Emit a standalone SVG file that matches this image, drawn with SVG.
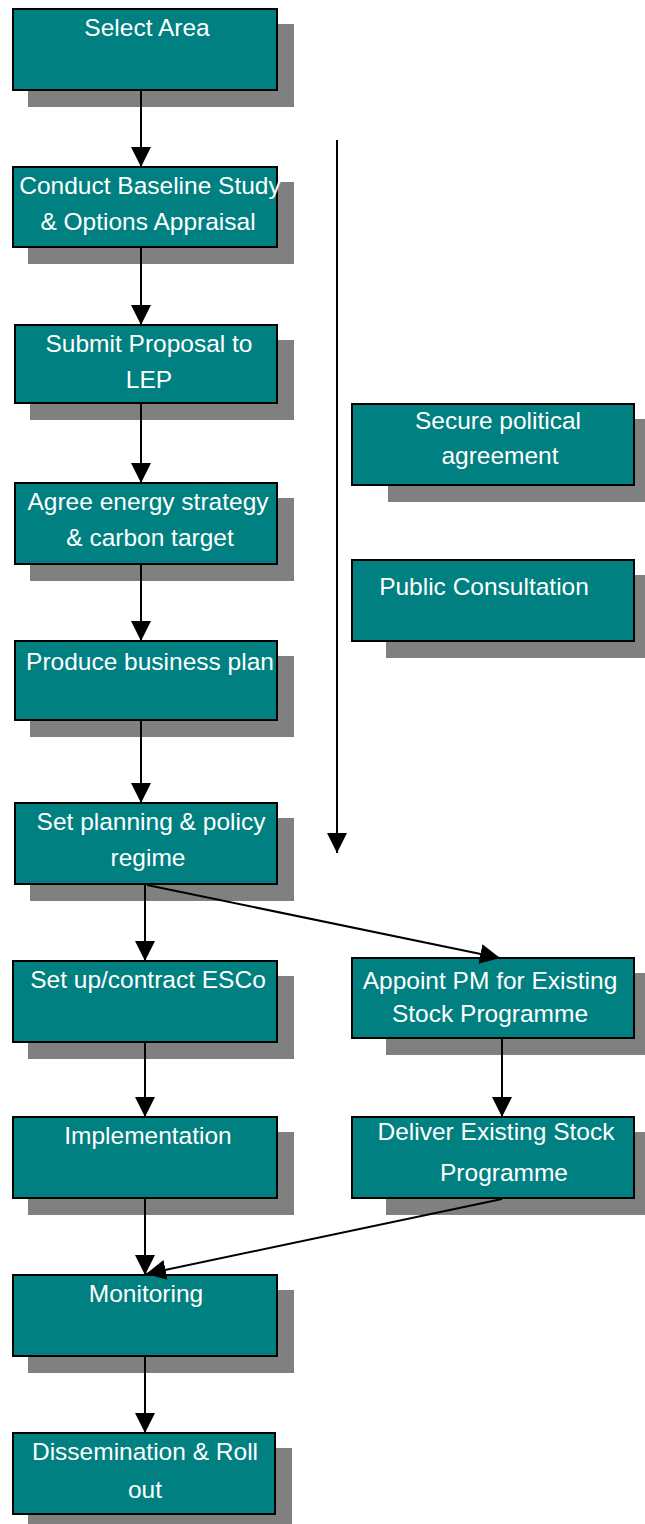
<svg xmlns="http://www.w3.org/2000/svg" width="645" height="1524" viewBox="0 0 645 1524">
  <style>
    .shadow { fill: #808080; }
    .box { fill: #008080; stroke: #000000; stroke-width: 2; }
    .label { font-family: "Liberation Sans", Arial, sans-serif; font-size: 24.5px; fill: #ffffff; text-anchor: middle; }
    .conn { stroke: #000000; stroke-width: 2; fill: none; marker-end: url(#arrow); }
  </style>
  <defs>
    <marker id="arrow" viewBox="0 0 20 20" refX="20" refY="10" markerWidth="20" markerHeight="21" markerUnits="userSpaceOnUse" orient="auto">
      <path d="M0,0 L20,10 L0,20 z" fill="#000000"/>
    </marker>
  </defs>

  <rect width="645" height="1524" fill="#ffffff"/>

  <!-- left column -->
  <g id="select-area">
    <rect class="shadow" x="28" y="24" width="266" height="83"/>
    <rect class="box" x="13" y="9" width="264" height="81"/>
    <text class="label" x="147" y="36">Select Area</text>
  </g>
  <g id="baseline-study">
    <rect class="shadow" x="28" y="182" width="266" height="82"/>
    <rect class="box" x="13" y="167" width="264" height="80"/>
    <text class="label" x="150" y="194">Conduct Baseline Study</text>
    <text class="label" x="148" y="230">&amp; Options Appraisal</text>
  </g>
  <g id="submit-proposal">
    <rect class="shadow" x="30" y="340" width="264" height="80"/>
    <rect class="box" x="15" y="325" width="262" height="78"/>
    <text class="label" x="149" y="352">Submit Proposal to</text>
    <text class="label" x="149" y="388">LEP</text>
  </g>
  <g id="energy-strategy">
    <rect class="shadow" x="30" y="498" width="264" height="83"/>
    <rect class="box" x="15" y="483" width="262" height="81"/>
    <text class="label" x="148" y="510">Agree energy strategy</text>
    <text class="label" x="150" y="546">&amp; carbon target</text>
  </g>
  <g id="business-plan">
    <rect class="shadow" x="30" y="656" width="264" height="81"/>
    <rect class="box" x="15" y="641" width="262" height="79"/>
    <text class="label" x="150" y="670">Produce business plan</text>
  </g>
  <g id="planning-regime">
    <rect class="shadow" x="30" y="818" width="264" height="83"/>
    <rect class="box" x="15" y="803" width="262" height="81"/>
    <text class="label" x="151" y="830">Set planning &amp; policy</text>
    <text class="label" x="148" y="866">regime</text>
  </g>
  <g id="contract-esco">
    <rect class="shadow" x="28" y="976" width="266" height="83"/>
    <rect class="box" x="13" y="961" width="264" height="81"/>
    <text class="label" x="148" y="988">Set up/contract ESCo</text>
  </g>
  <g id="implementation">
    <rect class="shadow" x="28" y="1132" width="266" height="83"/>
    <rect class="box" x="13" y="1117" width="264" height="81"/>
    <text class="label" x="148" y="1144">Implementation</text>
  </g>
  <g id="monitoring">
    <rect class="shadow" x="28" y="1290" width="266" height="83"/>
    <rect class="box" x="13" y="1275" width="264" height="81"/>
    <text class="label" x="146" y="1302">Monitoring</text>
  </g>
  <g id="dissemination">
    <rect class="shadow" x="28" y="1448" width="264" height="76"/>
    <rect class="box" x="13" y="1433" width="262" height="81"/>
    <text class="label" x="145" y="1460">Dissemination &amp; Roll</text>
    <text class="label" x="145" y="1498">out</text>
  </g>

  <!-- right column -->
  <g id="political-agreement">
    <rect class="shadow" x="388" y="419" width="257" height="83"/>
    <rect class="box" x="352" y="404" width="282" height="81"/>
    <text class="label" x="498" y="429">Secure political</text>
    <text class="label" x="500" y="464">agreement</text>
  </g>
  <g id="public-consultation">
    <rect class="shadow" x="386" y="575" width="259" height="83"/>
    <rect class="box" x="352" y="560" width="282" height="81"/>
    <text class="label" x="484" y="595">Public Consultation</text>
  </g>
  <g id="appoint-pm">
    <rect class="shadow" x="386" y="973" width="259" height="82"/>
    <rect class="box" x="352" y="958" width="282" height="80"/>
    <text class="label" x="490" y="989">Appoint PM for Existing</text>
    <text class="label" x="490" y="1022">Stock Programme</text>
  </g>
  <g id="existing-stock">
    <rect class="shadow" x="386" y="1132" width="259" height="83"/>
    <rect class="box" x="352" y="1117" width="282" height="81"/>
    <text class="label" x="496" y="1140">Deliver Existing Stock</text>
    <text class="label" x="504" y="1181">Programme</text>
  </g>

  <!-- connectors, drawn above the drop shadows -->
  <g id="connectors">
    <line class="conn" x1="141" y1="91" x2="141" y2="167"/>
    <line class="conn" x1="141" y1="248" x2="141" y2="325"/>
    <line class="conn" x1="141" y1="404" x2="141" y2="483"/>
    <line class="conn" x1="141" y1="565" x2="141" y2="641"/>
    <line class="conn" x1="141" y1="721" x2="141" y2="803"/>
    <line class="conn" x1="145" y1="885" x2="145" y2="961"/>
    <line class="conn" x1="147" y1="885" x2="500" y2="958"/>
    <line class="conn" x1="502" y1="1039" x2="502" y2="1117"/>
    <line class="conn" x1="145" y1="1043" x2="145" y2="1117"/>
    <line class="conn" x1="145" y1="1199" x2="145" y2="1275"/>
    <line class="conn" x1="502" y1="1199" x2="146" y2="1274"/>
    <line class="conn" x1="145" y1="1357" x2="145" y2="1433"/>
    <line class="conn" x1="337" y1="140" x2="337" y2="853"/>
  </g>
</svg>
